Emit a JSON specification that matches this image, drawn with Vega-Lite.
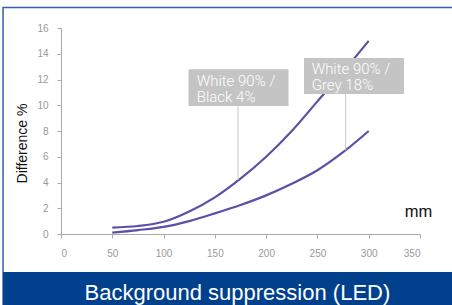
{
  "$schema": "https://vega.github.io/schema/vega-lite/v6.json",
  "width": 359,
  "height": 206,
  "autosize": {"type": "none"},
  "padding": {"left": 61, "top": 28, "right": 32, "bottom": 71},
  "background": "white",
  "config": {
    "view": {"stroke": null},
    "font": "Liberation Sans",
    "axis": {
      "grid": false, "tickSize": 4, "labelOverlap": false,
      "domainColor": "#aaaaaa", "tickColor": "#aaaaaa",
      "labelColor": "#999999", "labelFontSize": 10, "labelFont": "Liberation Sans",
      "titleFontWeight": "normal", "titleColor": "#111111", "titleBaseline": "middle", "titleAlign": "center", "titleFont": "Liberation Sans"
    },
    "axisX": {"labelPadding": 10, "titleX": 357, "titleY": -23, "titleFontSize": 16.5},
    "axisY": {"labelPadding": 9, "titleX": -39, "titleY": 115, "titleFontSize": 14}
  },
  "datasets": {
    "frame": [{"x": -56.5, "x2": 420, "y": 17.6, "y2": -6}],
    "banner": [{"x": -56.5, "x2": 420, "y": -2.95, "y2": -6, "label": "Background suppression (LED)", "tx": 172, "ty": -5.13}],
    "lines": [
      {"series": "White 90% / Black 4%", "x": 50, "y": 0.5},
      {"series": "White 90% / Black 4%", "x": 75, "y": 0.62},
      {"series": "White 90% / Black 4%", "x": 100, "y": 0.95},
      {"series": "White 90% / Black 4%", "x": 125, "y": 1.75},
      {"series": "White 90% / Black 4%", "x": 150, "y": 2.85},
      {"series": "White 90% / Black 4%", "x": 175, "y": 4.3},
      {"series": "White 90% / Black 4%", "x": 200, "y": 6.0},
      {"series": "White 90% / Black 4%", "x": 225, "y": 8.0},
      {"series": "White 90% / Black 4%", "x": 250, "y": 10.3},
      {"series": "White 90% / Black 4%", "x": 275, "y": 12.6},
      {"series": "White 90% / Black 4%", "x": 300, "y": 15.0},
      {"series": "White 90% / Grey 18%", "x": 50, "y": 0.1},
      {"series": "White 90% / Grey 18%", "x": 75, "y": 0.3},
      {"series": "White 90% / Grey 18%", "x": 100, "y": 0.55},
      {"series": "White 90% / Grey 18%", "x": 125, "y": 1.0},
      {"series": "White 90% / Grey 18%", "x": 150, "y": 1.6},
      {"series": "White 90% / Grey 18%", "x": 175, "y": 2.25},
      {"series": "White 90% / Grey 18%", "x": 200, "y": 3.0},
      {"series": "White 90% / Grey 18%", "x": 225, "y": 3.9},
      {"series": "White 90% / Grey 18%", "x": 250, "y": 4.95},
      {"series": "White 90% / Grey 18%", "x": 275, "y": 6.35},
      {"series": "White 90% / Grey 18%", "x": 300, "y": 8.0}
    ],
    "callouts": [
      {"x": 124.3, "x2": 221.8, "y": 12.8, "y2": 9.95, "label": "White 90% /\nBlack 4%", "tx": 132.3, "ty": 11.5, "lx": 172.6, "ly": 9.95, "ly2": 4.2},
      {"x": 236.9, "x2": 334.4, "y": 13.67, "y2": 10.87, "label": "White 90% /\nGrey 18%", "tx": 244.4, "ty": 12.43, "lx": 277.5, "ly": 10.87, "ly2": 6.5}
    ]
  },
  "layer": [
    {
      "data": {"name": "lines"},
      "mark": {"type": "line", "interpolate": "catmull-rom", "color": "#5a50a8", "strokeWidth": 2.2},
      "encoding": {
        "x": {"field": "x", "type": "quantitative", "scale": {"domain": [0, 350], "nice": false, "zero": false}, "axis": {"values": [0, 50, 100, 150, 200, 250, 300, 350], "title": "mm"}},
        "y": {"field": "y", "type": "quantitative", "scale": {"domain": [0, 16], "nice": false, "zero": false}, "axis": {"values": [0, 2, 4, 6, 8, 10, 12, 14, 16], "tickCount": 9, "title": "Difference %"}},
        "detail": {"field": "series"}
      }
    },
    {
      "data": {"name": "frame"},
      "mark": {"type": "rect", "fill": null, "stroke": "#2f60a9", "strokeWidth": 1.5, "clip": false},
      "encoding": {
        "x": {"field": "x", "type": "quantitative", "scale": {"domain": [0, 350], "nice": false, "zero": false}, "axis": {"values": [0, 50, 100, 150, 200, 250, 300, 350], "title": "mm"}},
        "x2": {"field": "x2"},
        "y": {"field": "y", "type": "quantitative", "scale": {"domain": [0, 16], "nice": false, "zero": false}, "axis": {"values": [0, 2, 4, 6, 8, 10, 12, 14, 16], "tickCount": 9, "title": "Difference %"}},
        "y2": {"field": "y2"}
      }
    },
    {
      "data": {"name": "banner"},
      "mark": {"type": "rect", "fill": "#00408c", "clip": false},
      "encoding": {
        "x": {"field": "x", "type": "quantitative", "scale": {"domain": [0, 350], "nice": false, "zero": false}, "axis": {"values": [0, 50, 100, 150, 200, 250, 300, 350], "title": "mm"}},
        "x2": {"field": "x2"},
        "y": {"field": "y", "type": "quantitative", "scale": {"domain": [0, 16], "nice": false, "zero": false}, "axis": {"values": [0, 2, 4, 6, 8, 10, 12, 14, 16], "tickCount": 9, "title": "Difference %"}},
        "y2": {"field": "y2"}
      }
    },
    {
      "data": {"name": "banner"},
      "mark": {"type": "text", "color": "white", "fontSize": 22, "font": "Liberation Sans", "align": "center", "baseline": "alphabetic", "clip": false},
      "encoding": {
        "x": {"field": "tx", "type": "quantitative", "scale": {"domain": [0, 350], "nice": false, "zero": false}, "axis": {"values": [0, 50, 100, 150, 200, 250, 300, 350], "title": "mm"}},
        "y": {"field": "ty", "type": "quantitative", "scale": {"domain": [0, 16], "nice": false, "zero": false}, "axis": {"values": [0, 2, 4, 6, 8, 10, 12, 14, 16], "tickCount": 9, "title": "Difference %"}},
        "text": {"field": "label"}
      }
    },
    {
      "data": {"name": "callouts"},
      "mark": {"type": "rule", "color": "#c8c8c8", "strokeWidth": 1},
      "encoding": {
        "x": {"field": "lx", "type": "quantitative", "scale": {"domain": [0, 350], "nice": false, "zero": false}, "axis": {"values": [0, 50, 100, 150, 200, 250, 300, 350], "title": "mm"}},
        "y": {"field": "ly", "type": "quantitative", "scale": {"domain": [0, 16], "nice": false, "zero": false}, "axis": {"values": [0, 2, 4, 6, 8, 10, 12, 14, 16], "tickCount": 9, "title": "Difference %"}},
        "y2": {"field": "ly2"}
      }
    },
    {
      "data": {"name": "callouts"},
      "mark": {"type": "rect", "fill": "#c4c4c4"},
      "encoding": {
        "x": {"field": "x", "type": "quantitative", "scale": {"domain": [0, 350], "nice": false, "zero": false}, "axis": {"values": [0, 50, 100, 150, 200, 250, 300, 350], "title": "mm"}},
        "x2": {"field": "x2"},
        "y": {"field": "y", "type": "quantitative", "scale": {"domain": [0, 16], "nice": false, "zero": false}, "axis": {"values": [0, 2, 4, 6, 8, 10, 12, 14, 16], "tickCount": 9, "title": "Difference %"}},
        "y2": {"field": "y2"}
      }
    },
    {
      "data": {"name": "callouts"},
      "mark": {"type": "text", "color": "white", "font": "Roboto", "fontWeight": 300, "fontSize": 15, "align": "left", "baseline": "alphabetic", "lineBreak": "\n", "lineHeight": 16},
      "encoding": {
        "x": {"field": "tx", "type": "quantitative", "scale": {"domain": [0, 350], "nice": false, "zero": false}, "axis": {"values": [0, 50, 100, 150, 200, 250, 300, 350], "title": "mm"}},
        "y": {"field": "ty", "type": "quantitative", "scale": {"domain": [0, 16], "nice": false, "zero": false}, "axis": {"values": [0, 2, 4, 6, 8, 10, 12, 14, 16], "tickCount": 9, "title": "Difference %"}},
        "text": {"field": "label"}
      }
    }
  ]
}
